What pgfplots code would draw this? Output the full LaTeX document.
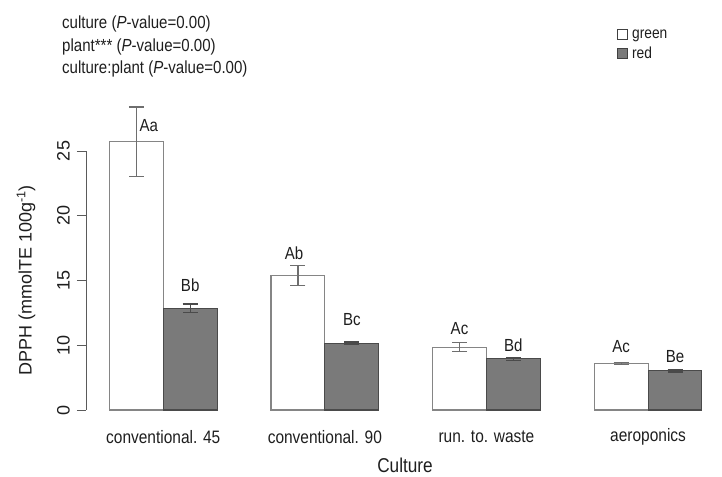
\documentclass[border=0pt]{standalone}
\usepackage{pgfplots}
\pgfplotsset{compat=1.18}
\usepackage{pgfplotstable}
\usepackage{fontspec}
\setmainfont{Liberation Sans}[FakeStretch=0.86]
\newfontfamily\rotfont{Liberation Sans}
\newcommand\F{\fontsize{17.5}{22.5}\selectfont}
\newcommand\FT{\fontsize{18}{21}\selectfont}

\definecolor{txt}{HTML}{1E1E1E}
\definecolor{barred}{HTML}{7A7A7A}
\definecolor{redline}{HTML}{4A4A4A}
\definecolor{whiteline}{HTML}{858585}
\definecolor{errc}{HTML}{6E6E6E}
\definecolor{axc}{HTML}{5A5A5A}

\pgfplotstableread{
x green greenerr red rederr
0 25.70 2.70 12.85 0.33
1 15.37 0.78 10.15 0.10
2 9.84 0.35 8.96 0.12
3 8.60 0.06 8.03 0.10
}\datatable

\begin{document}
\begin{tikzpicture}
\path[use as bounding box] (0pt,0pt) rectangle (722pt,476pt);
\node[anchor=north west, align=left, font=\F, text=txt, inner sep=0pt] at (62pt,460pt)
  {culture (\textit{P}-value=0.00)\\plant*** (\textit{P}-value=0.00)\\culture:plant (\textit{P}-value=0.00)};
\begin{axis}[
  at={(86pt,66pt)}, anchor=south west,
  scale only axis, width=626.7pt, height=259pt,
  xmin=-0.478, xmax=3.4, ymin=0, ymax=20,
  clip=false,
  axis y line*=left, axis x line*=bottom,
  x axis line style={draw=none},
  y axis line style={draw=axc, line width=0.9pt},
  tick align=outside,
  major tick length=9pt,
  xtick={0,1,2,3},
  xticklabels={conventional. 45, conventional. 90, run. to. waste, aeroponics},
  xtick style={draw=none},
  ytick={0,5,10,15,20},
  yticklabels={0,10,15,20,25},
  ytick style={draw=axc, line width=0.9pt},
  /pgf/number format/assume math mode=true,
  xticklabel style={font=\FT, text=txt, anchor=center, yshift=-18pt},
  yticklabel style={font=\rotfont\FT, text=txt, rotate=90, anchor=south, inner sep=0pt},
  yticklabel shift=7pt,
  xlabel={Culture},
  xlabel style={font=\fontsize{20}{24}\selectfont, text=txt, at={(axis description cs:0.509,-0.2124)}, anchor=center},
  ylabel={DPPH (mmolTE 100g\textsuperscript{-1})},
  ylabel style={font=\rotfont\FT, text=txt, at={(axis description cs:-0.0957,0.5)}, anchor=center},
  legend style={at={(axis description cs:0.8475,1.474)}, anchor=north west, draw=none, fill=none,
    font=\fontsize{16}{19}\selectfont, text=txt, inner sep=0pt, row sep=5pt,
    nodes={inner xsep=4pt, inner ysep=1pt}},
  legend cell align=left,
  bar width=0.3333,
]
\addplot[ybar, bar shift=0pt, fill=white, draw=whiteline, line width=1.1pt,
  legend image code/.code={\draw[fill=white, draw=black!75, line width=0.8pt] (0pt,-5pt) rectangle (10pt,5pt);},
  error bars/.cd, y dir=both, y explicit,
  error bar style={draw=errc, line width=1.2pt},
  error mark options={rotate=90, mark size=7.5pt, draw=errc, line width=1.2pt}]
  table[x expr=\thisrow{x}-0.16667, y expr=\thisrow{green}-5, y error=greenerr] {\datatable};
\addlegendentry{green}
\addplot[ybar, bar shift=0pt, fill=barred, draw=redline, line width=1.1pt,
  legend image code/.code={\draw[fill=barred, draw=black!75, line width=0.8pt] (0pt,-5pt) rectangle (10pt,5pt);},
  error bars/.cd, y dir=both, y explicit,
  error bar style={draw=redline, line width=1.2pt},
  error mark options={rotate=90, mark size=7.5pt, draw=redline, line width=1.2pt}]
  table[x expr=\thisrow{x}+0.16667, y expr=\thisrow{red}-5, y error=rederr] {\datatable};
\addlegendentry{red}
\begin{scope}[every node/.style={font=\F, text=txt, inner sep=0pt}]
\node[anchor=west] at (axis cs:-0.147,22.0) {Aa};
\node at (axis cs:0.16667,9.65) {Bb};
\node at (axis cs:0.81,12.1) {Ab};
\node at (axis cs:1.16667,6.95) {Bc};
\node at (axis cs:1.8333,6.25) {Ac};
\node at (axis cs:2.16667,5.0) {Bd};
\node at (axis cs:2.8333,4.9) {Ac};
\node at (axis cs:3.16667,4.1) {Be};
\end{scope}
\end{axis}
\end{tikzpicture}
\end{document}
